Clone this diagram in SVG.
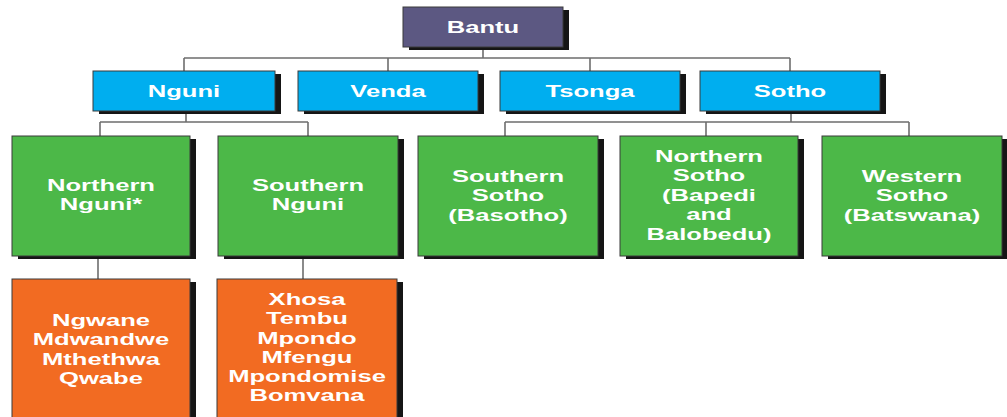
<svg xmlns="http://www.w3.org/2000/svg" width="1007" height="417" viewBox="0 0 1007 417">
<style>
.sh{fill:#151515}
.bx{stroke:#3a3a3a;stroke-width:1}
.purple{fill:#5c5882}
.blue{fill:#00aeef}
.green{fill:#4cb848}
.orange{fill:#f26b22}
.t{font-family:"Liberation Sans",Arial,sans-serif;font-weight:bold;font-size:16px;fill:#ffffff;text-anchor:middle}
.c{stroke:#6e6e6e;stroke-width:1.6;fill:none}
</style>
<rect width="1007" height="417" fill="#ffffff"/>
<g id="connectors">
<path class="c" d="M483 47V58M184 58H790M184 58V71M388 58V71M590 58V71M790 58V71"/>
<path class="c" d="M186 111V122M100 122H308M100 122V136M308 122V136"/>
<path class="c" d="M791 111V122M505 122H909M505 122V136M706 122V136M909 122V136"/>
<path class="c" d="M98 256V279M303 256V279"/>
</g>
<g id="bantu">
<rect class="sh" x="409" y="10" width="160" height="40"/>
<rect class="bx purple" x="403" y="7" width="160" height="40"/>
<text class="t" transform="translate(483,33) scale(1.6,1)">Bantu</text>
</g>
<g id="nguni">
<rect class="sh" x="99" y="74" width="182" height="40"/>
<rect class="bx blue" x="93" y="71" width="182" height="40"/>
<text class="t" transform="translate(184,97) scale(1.6,1)">Nguni</text>
</g>
<g id="venda">
<rect class="sh" x="304" y="74" width="180" height="40"/>
<rect class="bx blue" x="298" y="71" width="180" height="40"/>
<text class="t" transform="translate(388,97) scale(1.6,1)">Venda</text>
</g>
<g id="tsonga">
<rect class="sh" x="506" y="74" width="180" height="40"/>
<rect class="bx blue" x="500" y="71" width="180" height="40"/>
<text class="t" transform="translate(590,97) scale(1.6,1)">Tsonga</text>
</g>
<g id="sotho">
<rect class="sh" x="706" y="74" width="180" height="40"/>
<rect class="bx blue" x="700" y="71" width="180" height="40"/>
<text class="t" transform="translate(790,97) scale(1.6,1)">Sotho</text>
</g>
<g id="northern-nguni">
<rect class="sh" x="18" y="139" width="178" height="120"/>
<rect class="bx green" x="12" y="136" width="178" height="120"/>
<text class="t" transform="translate(101,191) scale(1.6,1)"><tspan x="0">Northern</tspan><tspan x="0" dy="19.5">Nguni*</tspan></text>
</g>
<g id="southern-nguni">
<rect class="sh" x="224" y="139" width="180" height="120"/>
<rect class="bx green" x="218" y="136" width="180" height="120"/>
<text class="t" transform="translate(308,191) scale(1.6,1)"><tspan x="0">Southern</tspan><tspan x="0" dy="19.5">Nguni</tspan></text>
</g>
<g id="southern-sotho">
<rect class="sh" x="424" y="139" width="180" height="120"/>
<rect class="bx green" x="418" y="136" width="180" height="120"/>
<text class="t" transform="translate(508,182) scale(1.6,1)"><tspan x="0">Southern</tspan><tspan x="0" dy="19.5">Sotho</tspan><tspan x="0" dy="19.5">(Basotho)</tspan></text>
</g>
<g id="northern-sotho">
<rect class="sh" x="626" y="139" width="178" height="120"/>
<rect class="bx green" x="620" y="136" width="178" height="120"/>
<text class="t" transform="translate(709,162) scale(1.6,1)"><tspan x="0">Northern</tspan><tspan x="0" dy="19.5">Sotho</tspan><tspan x="0" dy="19.5">(Bapedi</tspan><tspan x="0" dy="19.5">and</tspan><tspan x="0" dy="19.5">Balobedu)</tspan></text>
</g>
<g id="western-sotho">
<rect class="sh" x="828" y="139" width="179" height="120"/>
<rect class="bx green" x="822" y="136" width="180" height="120"/>
<text class="t" transform="translate(912,182) scale(1.6,1)"><tspan x="0">Western</tspan><tspan x="0" dy="19.5">Sotho</tspan><tspan x="0" dy="19.5">(Batswana)</tspan></text>
</g>
<g id="northern-nguni-peoples">
<rect class="sh" x="18" y="282" width="178" height="140"/>
<rect class="bx orange" x="12" y="279" width="178" height="140"/>
<text class="t" transform="translate(101,326) scale(1.6,1)"><tspan x="0">Ngwane</tspan><tspan x="0" dy="19.5">Mdwandwe</tspan><tspan x="0" dy="19.5">Mthethwa</tspan><tspan x="0" dy="19.5">Qwabe</tspan></text>
</g>
<g id="southern-nguni-peoples">
<rect class="sh" x="223" y="282" width="180" height="140"/>
<rect class="bx orange" x="217" y="279" width="180" height="140"/>
<text class="t" transform="translate(307,305) scale(1.6,1)"><tspan x="0">Xhosa</tspan><tspan x="0" dy="19.3">Tembu</tspan><tspan x="0" dy="19.3">Mpondo</tspan><tspan x="0" dy="19.3">Mfengu</tspan><tspan x="0" dy="19.3">Mpondomise</tspan><tspan x="0" dy="19.3">Bomvana</tspan></text>
</g>
</svg>
